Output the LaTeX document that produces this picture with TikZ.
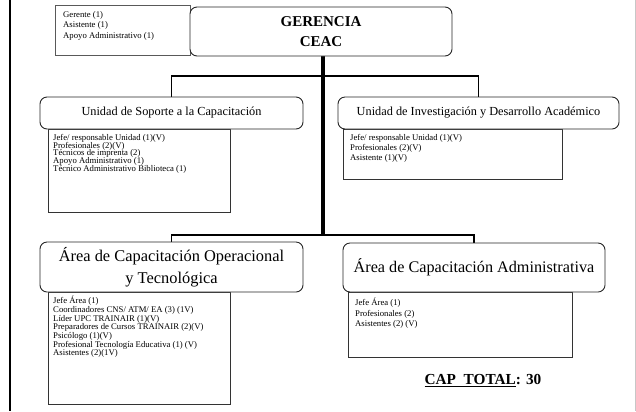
\documentclass[tikz,border=0pt]{standalone}
\usepackage{fontspec}
\setmainfont{Liberation Serif}
\usetikzlibrary{backgrounds}
\newcommand\fsz[2]{\fontsize{#1bp}{#2bp}\selectfont\lineskiplimit=-100pt\relax}
\newcommand\thickul[1]{\setbox0=\hbox{#1}\rlap{\vrule height -1.3bp depth 2.7bp width \wd0}\box0}
\tikzset{
  hdr/.style={draw=black!85, line width=0.9bp, rounded corners=7bp, fill=white, inner sep=0pt, align=center},
  subbox/.style={draw=black!80, line width=0.9bp, anchor=north west, inner sep=0pt},
  listtext/.style={anchor=north west, inner sep=0pt, align=left},
  trunk/.style={line width=3.5bp},
  branch/.style={line width=1.8bp},
  frameline/.style={line width=2.6bp},
}
\begin{document}
\begin{tikzpicture}[x=1bp,y=-1bp]
\useasboundingbox (0,0) rectangle (636,411);

% staff of Gerencia
\node[subbox, draw=black!65, minimum width=135bp, minimum height=50bp] (staff) at (55,5) {};
\node[listtext, font=\fsz{8.7}{10.5}] (stafft) at (63,11) {Gerente (1)\\Asistente (1)\\Apoyo Administrativo (1)};

\node[hdr, minimum width=262bp, minimum height=49bp, font=\fsz{15}{20}\bfseries] (ger) at (321,31.5) {GERENCIA\\CEAC};

% Unidad de Soporte
\node[subbox, minimum width=182bp, minimum height=83bp] (sopb) at (48,129) {};
\node[hdr, minimum width=263bp, minimum height=32bp, font=\fsz{12.3}{14}] (sop) at (171.5,113) {Unidad de Soporte a la Capacitación};
\node[listtext, font=\fsz{8.7}{7.8}] (sopt) at (53,134) {Jefe/ responsable Unidad (1)(V)\\Profesionales (2)(V)\\Técnicos de imprenta (2)\\Apoyo Administrativo (1)\\Técnico Administrativo Biblioteca (1)};

% Unidad de Investigacion
\node[subbox, minimum width=219bp, minimum height=50bp] (invb) at (343,129) {};
\node[hdr, minimum width=281bp, minimum height=32bp, font=\fsz{12.3}{14}] (inv) at (478.5,113) {Unidad de Investigación y Desarrollo Académico};
\node[listtext, font=\fsz{8.7}{10.3}] (invt) at (350,134) {Jefe/ responsable Unidad (1)(V)\\Profesionales (2)(V)\\Asistente (1)(V)};

% Area Operacional
\node[subbox, minimum width=182bp, minimum height=112bp] (opeb) at (48,292) {};
\node[hdr, minimum width=263bp, minimum height=50bp, font=\fsz{16.4}{22}] (ope) at (171.5,267) {Área de Capacitación Operacional\\y Tecnológica};
\node[listtext, font=\fsz{8.7}{8.7}] (opet) at (53,296) {Jefe Área (1)\\Coordinadores CNS/ ATM/ EA (3) (1V)\\Líder UPC TRAINAIR (1)(V)\\Preparadores de Cursos TRAINAIR (2)(V)\\Psicólogo (1)(V)\\Profesional Tecnología Educativa (1) (V)\\Asistentes (2)(1V)};

% Area Administrativa
\node[subbox, minimum width=224bp, minimum height=65bp] (admb) at (348,292) {};
\node[hdr, minimum width=262bp, minimum height=49bp, font=\fsz{16.2}{20}] (adm) at (474,267.5) {Área de Capacitación Administrativa};
\node[listtext, font=\fsz{8.7}{10.5}] (admt) at (355,298) {Jefe Área (1)\\Profesionales (2)\\Asistentes (2) (V)};

\node[font=\fsz{15.3}{18}\bfseries, inner sep=0pt] (cap) at (483,381) {\thickul{CAP\ \ TOTAL}: 30};

% connectors
\coordinate (j1) at (323,76);
\coordinate (j2) at (323,235);
\coordinate (fl1) at (10,0);
\coordinate (fl2) at (10,411);
\coordinate (fr1) at (635,0);
\coordinate (fr2) at (635,411);
\begin{scope}[on background layer]
  \fill[white] (0,0) rectangle (636,411);
  \draw[frameline] (fl1) -- (fl2);
  \draw[black!22, line width=1bp] (fr1) -- (fr2);
  \draw[trunk] (ger.south -| j1) -- (j2);
  \draw[branch] (sop.north) |- (j1) -| (inv.north);
  \draw[branch] (ope.north) |- (j2) -| (adm.north);
\end{scope}
\end{tikzpicture}
\end{document}
